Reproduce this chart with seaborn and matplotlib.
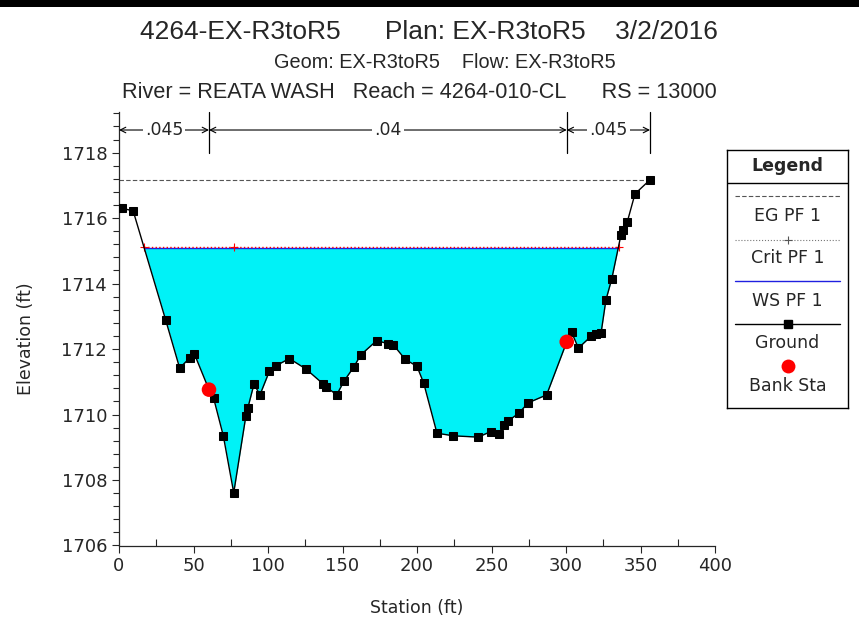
import numpy as np
import pandas as pd
import seaborn as sns
from matplotlib import pyplot as plt
from matplotlib.patches import Rectangle

# Cross section data (station ft, elevation ft)
ground_sta = [0, 2, 9.5, 31.3, 40.7, 47.7, 50.5, 60.4, 63.5, 70.0, 77.0, 85.2, 86.4,
              90.6, 94.6, 100.9, 105.4, 114.3, 125.5, 137.1, 138.9, 146.1, 151.0,
              157.7, 162.2, 173.0, 180.7, 184.1, 192.0, 200.0, 204.5, 213.4, 224.4,
              241.1, 249.5, 255.2, 258.6, 261.3, 268.3, 274.7, 287.0, 300.5, 303.8,
              308.3, 316.8, 320.1, 323.5, 326.8, 330.7, 336.9, 338.5, 341.1, 346.3,
              356.4]
ground_elev = [1716.30, 1716.30, 1716.22, 1712.89, 1711.42, 1711.74, 1711.86, 1710.76,
               1710.50, 1709.35, 1707.61, 1709.97, 1710.19, 1710.93, 1710.60, 1711.32,
               1711.49, 1711.71, 1711.39, 1710.93, 1710.85, 1710.60, 1711.02, 1711.46,
               1711.82, 1712.26, 1712.16, 1712.13, 1711.69, 1711.47, 1710.96, 1709.43,
               1709.35, 1709.31, 1709.48, 1709.40, 1709.68, 1709.81, 1710.04, 1710.36,
               1710.60, 1712.22, 1712.51, 1712.03, 1712.39, 1712.46, 1712.48, 1713.50,
               1714.14, 1715.49, 1715.64, 1715.88, 1716.74, 1717.17]

bank_sta = [60.4, 300.5]
bank_elev = [1710.76, 1712.22]

ws_elev = 1715.10
ws_sta = [17.0, 335.6]
crit_elev = 1715.12
crit_sta = [17.0, 77.0, 335.6]
eg_elev = 1717.15
eg_sta = [0, 356.4]

n_breaks = [0, 60.4, 300.5, 356.4]
n_values = [".045", ".04", ".045"]

df = pd.DataFrame({"station": ground_sta, "elevation": ground_elev})
banks = pd.DataFrame({"station": bank_sta, "elevation": bank_elev})

sns.set_style("ticks")
plt.rcParams["font.family"] = ["DejaVu Sans"]

fig = plt.figure(figsize=(8.59, 6.22), dpi=100)
ax = fig.add_axes([119 / 859, 76.5 / 622, 596 / 859, 433.5 / 622])

# water fill
g = np.array(ground_elev)
ax.fill_between(ground_sta, g, ws_elev, where=g <= ws_elev, interpolate=True,
                color="#00F2F7", linewidth=0, zorder=1)

ax.plot(eg_sta, [eg_elev] * 2, color="#555555", ls=(0, (4, 2)), lw=0.8, zorder=2)
ax.plot(ws_sta, [ws_elev] * 2, color="#2020E0", lw=1, zorder=3)
ax.plot(crit_sta, [crit_elev] * 3, color="red", ls=":", lw=1, marker="+",
        ms=6, mew=0.8, zorder=4)

sns.lineplot(data=df, x="station", y="elevation", sort=False, color="black", lw=1,
             marker="s", markersize=5.5, markeredgecolor="black", ax=ax, zorder=5)
sns.scatterplot(data=banks, x="station", y="elevation", color="red", s=110,
                edgecolor="none", ax=ax, zorder=6)

ax.set_xlim(0, 400)
ax.set_ylim(1706, 1719.24)
ax.set_xticks(np.arange(0, 401, 50))
ax.set_xticks(np.arange(25, 400, 50), minor=True)
ax.set_yticks(np.arange(1706, 1719, 2))
ax.set_yticks(np.arange(1706, 1719.3, 0.4), minor=True)
ax.tick_params(axis="both", which="major", labelsize=13, length=5, width=0.8)
ax.tick_params(axis="x", which="minor", direction="in", length=5, width=0.8)
ax.tick_params(axis="y", which="minor", length=4, width=0.8)
sns.despine(ax=ax)
for s in ["left", "bottom"]:
    ax.spines[s].set_linewidth(0.9)

ax.set_xlabel("Station (ft)", fontsize=12.5)
ax.set_ylabel("Elevation (ft)", fontsize=12.5)
ax.xaxis.set_label_coords(0.5, -0.123)
ax.yaxis.set_label_coords(-0.141, 0.476)

# Manning's n bracket
ny = 1718.69
for b in n_breaks[1:]:
    ax.plot([b, b], [1717.98, 1719.24], color="black", lw=0.9, clip_on=False)
for i, lab in enumerate(n_values):
    x0, x1 = n_breaks[i], n_breaks[i + 1]
    ax.annotate("", xy=(x0, ny), xytext=(x1, ny),
                arrowprops=dict(arrowstyle="<->", lw=0.8, color="black",
                                shrinkA=0, shrinkB=0), annotation_clip=False)
    ax.text((x0 + x1) / 2, ny, lab, ha="center", va="center", fontsize=12.5,
            bbox=dict(facecolor="white", edgecolor="none", pad=1.5), zorder=7)

# titles
fig.text(429 / 859, 0.9486, "4264-EX-R3toR5      Plan: EX-R3toR5    3/2/2016",
         ha="center", va="center", fontsize=19, family="Liberation Sans")
fig.text(445 / 859, 0.9003, "Geom: EX-R3toR5    Flow: EX-R3toR5",
         ha="center", va="center", fontsize=14.3, family="Liberation Sans")
fig.text(419.5 / 859, 0.8505, "River = REATA WASH   Reach = 4264-010-CL      RS = 13000",
         ha="center", va="center", fontsize=15.6, family="Liberation Sans")

# top bar
fig.patches.append(Rectangle((0, 1 - 7 / 622), 1, 7 / 622, transform=fig.transFigure,
                             facecolor="black", edgecolor="none"))

# legend box drawn in HEC-RAS style
lax = fig.add_axes([727 / 859, (622 - 408) / 622, 121 / 859, 258 / 622])
lax.set_xlim(0, 121)
lax.set_ylim(258, 0)
lax.set_xticks([])
lax.set_yticks([])
for s in lax.spines.values():
    s.set_color("black")
    s.set_linewidth(1)
    s.set_visible(True)
lax.axhline(33, color="black", lw=1)
lax.text(60.5, 16, "Legend", ha="center", va="center", fontsize=12.5, weight="bold")
lax.plot([8, 113], [46, 46], color="#555555", ls=(0, (4, 2)), lw=0.8)
lax.text(60.5, 66, "EG PF 1", ha="center", va="center", fontsize=12.5)
lax.plot([8, 113], [90, 90], color="#777777", ls=":", lw=0.8)
lax.plot([60.5], [90], color="#555555", marker="+", ms=6, mew=0.8)
lax.text(60.5, 108, "Crit PF 1", ha="center", va="center", fontsize=12.5)
lax.plot([8, 113], [131, 131], color="#2020E0", lw=1)
lax.text(60.5, 151, "WS PF 1", ha="center", va="center", fontsize=12.5)
lax.plot([8, 113], [174, 174], color="black", lw=1)
lax.plot([60.5], [174], color="black", marker="s", ms=5.5)
lax.text(60.5, 193, "Ground", ha="center", va="center", fontsize=12.5)
lax.plot([60.5], [216], color="red", marker="o", ms=10, mec="none")
lax.text(60.5, 236, "Bank Sta", ha="center", va="center", fontsize=12.5)

plt.savefig("out.png", dpi=100)
